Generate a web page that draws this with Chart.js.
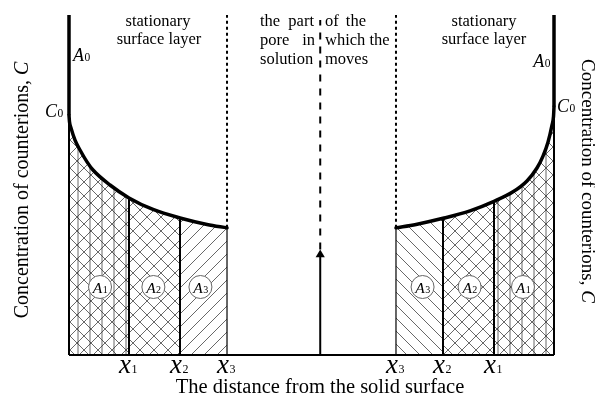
<!DOCTYPE html>
<html><head><meta charset="utf-8">
<script src="https://cdn.jsdelivr.net/npm/chart.js@4.4.1/dist/chart.umd.min.js"></script>
<style>html,body{margin:0;padding:0;background:#fff}canvas{display:block}</style>
</head><body>
<canvas id="c" width="595" height="395"></canvas>
<script>
// ---- data (distance from each solid surface, concentration of counterions) ----
const leftDistance       = [0, 0.1, 0.41, 1.24, 2.27, 3.71, 4.95, 8.45, 12.37, 17.32, 22.89, 28.45, 32.58];
const leftConcentration  = [70.5, 68.6, 66.8, 63.2, 60.3, 56.8, 54.4, 50.0, 46.2, 42.8, 40.3, 38.4, 37.4];
const rightDistance      = [0, 0.1, 0.41, 1.24, 2.27, 3.51, 5.57, 8.45, 12.37, 17.32, 22.89, 28.45, 32.58];
const rightConcentration = [73.0, 70.2, 67.6, 62.6, 58.5, 55.0, 51.2, 48.0, 45.2, 42.4, 40.2, 38.4, 37.4];
const layerBounds   = [12.37, 22.89, 32.58];       // x1, x2, x3
const tickMain      = ['x', 'x', 'x'];
const tickSub       = ['1', '2', '3'];
const areaCenters   = [6.4, 17.4, 27.1];           // A1, A2, A3
const areaLevel     = 20;
const areaSub       = ['1', '2', '3'];
const poreCenter    = 51.8;
const arrowTip      = 31;
const dashTop       = 98.5;
const topLevel      = 100;

const SERIF = '"Liberation Serif", "Times New Roman", serif';
const ctx0 = document.getElementById('c').getContext('2d');

function makePattern(kind, s) {
  const t = document.createElement('canvas'); t.width = s; t.height = s;
  const g = t.getContext('2d');
  g.strokeStyle = 'rgba(30,30,30,0.75)'; g.lineWidth = 0.9;
  g.beginPath();
  if (kind === 'cross' || kind === 'slash') for (let k = -1; k <= 1; k++) { g.moveTo(k*s, s); g.lineTo(k*s + s, 0); }
  if (kind === 'cross' || kind === 'back')  for (let k = -1; k <= 1; k++) { g.moveTo(k*s, 0); g.lineTo(k*s + s, s); }
  if (kind === 'vert') { g.moveTo(s/2, 0); g.lineTo(s/2, s); }
  g.stroke();
  return ctx0.createPattern(t, 'repeat');
}
const pCross = makePattern('cross', 14);
const pSlash = makePattern('slash', 13);
const pBack  = makePattern('back', 13);
const pVert  = makePattern('vert', 12);

function pts(ds, cs, lo, hi) {
  const out = [];
  ds.forEach((d, i) => { if (d >= lo - 1e-9 && d <= hi + 1e-9) out.push({x: d, y: cs[i]}); });
  return out;
}
function valAt(ds, cs, d) { return cs[ds.indexOf(d)]; }

const datasets = [];
function fillSet(side, lo, hi, pattern) {
  const ds = side === 'L' ? leftDistance : rightDistance, cs = side === 'L' ? leftConcentration : rightConcentration;
  datasets.push({data: pts(ds, cs, lo, hi), xAxisID: side === 'L' ? 'x' : 'xr', showLine: true, fill: 'origin',
    backgroundColor: pattern, borderWidth: 0, pointRadius: 0, cubicInterpolationMode: 'monotone', order: 20});
}
function lineSet(data, axis, w, dash, order, extra) {
  datasets.push(Object.assign({data, xAxisID: axis, showLine: true, fill: false, borderColor: '#000',
    borderWidth: w, borderDash: dash || [], pointRadius: 0, tension: 0, order}, extra || {}));
}
['L', 'R'].forEach(side => {
  const ds = side === 'L' ? leftDistance : rightDistance, cs = side === 'L' ? leftConcentration : rightConcentration;
  const ax = side === 'L' ? 'x' : 'xr';
  fillSet(side, 0, layerBounds[0], pCross);
  fillSet(side, 0, layerBounds[0], pVert);
  fillSet(side, layerBounds[0], layerBounds[1], pCross);
  fillSet(side, layerBounds[1], layerBounds[2], side === 'L' ? pSlash : pBack);
  // wall and layer boundaries
  lineSet([{x: 0, y: 0}, {x: 0, y: cs[0]}], ax, 2, null, 6);
  lineSet([{x: 0, y: cs[0]}, {x: 0, y: topLevel}], ax, 3.5, null, 2);
  lineSet([{x: layerBounds[0], y: 0}, {x: layerBounds[0], y: valAt(ds, cs, layerBounds[0])}], ax, 2, null, 6);
  lineSet([{x: layerBounds[1], y: 0}, {x: layerBounds[1], y: valAt(ds, cs, layerBounds[1])}], ax, 2, null, 6);
  lineSet([{x: layerBounds[2], y: 0}, {x: layerBounds[2], y: valAt(ds, cs, layerBounds[2])}], ax, 1.2, null, 6);
  lineSet([{x: layerBounds[2], y: valAt(ds, cs, layerBounds[2])}, {x: layerBounds[2], y: topLevel}], ax, 2, [3, 3], 6);
  // concentration curve
  lineSet(ds.map((d, i) => ({x: d, y: cs[i]})), ax, 3.5, null, 2, {cubicInterpolationMode: 'monotone', borderCapStyle: 'round'});
  // area markers
  datasets.push({data: areaCenters.map(d => ({x: d, y: areaLevel})), xAxisID: ax, showLine: false,
    pointRadius: 11.5, pointHoverRadius: 11.5, pointBackgroundColor: '#fff', pointBorderColor: '#666', pointBorderWidth: 1, order: 1});
});
// baseline
lineSet([{x: 0, y: 0}, {x: 100, y: 0}], 'x', 2, null, 5);
// pore centre: dashed line and arrow
lineSet([{x: poreCenter, y: arrowTip}, {x: poreCenter, y: dashTop}], 'x', 2, [7, 7], 5);
lineSet([{x: poreCenter, y: 0}, {x: poreCenter, y: arrowTip - 2}], 'x', 2, null, 5);
datasets.push({data: [{x: poreCenter, y: arrowTip - 1.5}], xAxisID: 'x', showLine: false, pointStyle: 'triangle',
  pointRadius: 5.3, pointBackgroundColor: '#000', pointBorderColor: '#000', pointBorderWidth: 0, order: 4});

function subText(ctx, x, y, main, sub, mainFont, subFont, align) {
  ctx.font = mainFont; const w1 = ctx.measureText(main).width;
  ctx.font = subFont;  const w2 = ctx.measureText(sub).width;
  let sx = x;
  if (align === 'center') sx = x - (w1 + w2) / 2;
  if (align === 'right') sx = x - (w1 + w2);
  ctx.textAlign = 'left'; ctx.textBaseline = 'alphabetic';
  ctx.font = mainFont; ctx.fillText(main, sx, y);
  ctx.font = subFont;  ctx.fillText(sub, sx + w1 + 0.5, y);
}

const labels = {
  id: 'labels',
  afterDraw(chart) {
    const ctx = chart.ctx, X = chart.scales.x, XR = chart.scales.xr, Y = chart.scales.y;
    ctx.save(); ctx.fillStyle = '#000';
    // tick labels x1 x2 x3
    [X, XR].forEach(S => layerBounds.forEach((b, i) => {
      subText(ctx, S.getPixelForValue(b) - 1, Y.getPixelForValue(0) + 18, tickMain[i], tickSub[i],
        'italic 27px ' + SERIF, '12px ' + SERIF, 'center');
    }));
    // area labels
    [X, XR].forEach(S => areaCenters.forEach((d, i) => {
      subText(ctx, S.getPixelForValue(d), Y.getPixelForValue(areaLevel) + 5.5, 'A', areaSub[i],
        'italic 15.5px ' + SERIF, '10px ' + SERIF, 'center');
    }));
    const xl = X.getPixelForValue(0), xr = XR.getPixelForValue(0);
    subText(ctx, xl + 4, 61, 'A', '0', 'italic 18px ' + SERIF, '11.5px ' + SERIF, 'left');
    subText(ctx, xl - 24, 117, 'C', '0', 'italic 18px ' + SERIF, '11.5px ' + SERIF, 'left');
    subText(ctx, xr - 4, 67, 'A', '0', 'italic 18px ' + SERIF, '11.5px ' + SERIF, 'right');
    subText(ctx, xr + 3, 112, 'C', '0', 'italic 18px ' + SERIF, '11.5px ' + SERIF, 'left');
    // top annotations
    ctx.font = '16.5px ' + SERIF; ctx.textBaseline = 'alphabetic';
    ctx.textAlign = 'center';
    ctx.fillText('stationary', 158, 25.5); ctx.fillText('surface layer', 159, 44);
    ctx.fillText('stationary', 484, 25.5); ctx.fillText('surface layer', 484, 44);
    ctx.textAlign = 'left';
    ctx.fillText('the', 260, 26); ctx.fillText('pore', 260, 45); ctx.fillText('solution', 260, 63.5);
    ctx.fillText('of', 325, 26); ctx.fillText('which the', 325, 45); ctx.fillText('moves', 325, 63.5);
    ctx.textAlign = 'right';
    ctx.fillText('part', 314, 26); ctx.fillText('in', 315, 45); ctx.fillText('the', 366, 26);
    // x axis title
    ctx.textAlign = 'center'; ctx.font = '20.5px ' + SERIF;
    ctx.fillText('The distance from the solid surface', 320, 393);
    // y axis titles
    function vTitle(x, y, rot, size) {
      ctx.save(); ctx.translate(x, y); ctx.rotate(rot);
      const a = 'Concentration of counterions, ', b = 'C';
      ctx.font = size + 'px ' + SERIF; const w1 = ctx.measureText(a).width;
      ctx.font = 'italic ' + size + 'px ' + SERIF; const w2 = ctx.measureText(b).width;
      ctx.textAlign = 'left';
      ctx.font = size + 'px ' + SERIF; ctx.fillText(a, -(w1 + w2) / 2, 0);
      ctx.font = 'italic ' + size + 'px ' + SERIF; ctx.fillText(b, -(w1 + w2) / 2 + w1, 0);
      ctx.restore();
    }
    vTitle(28, 190, -Math.PI / 2, 20);
    vTitle(582, 181, Math.PI / 2, 19);
    ctx.restore();
  }
};

new Chart(ctx0, {
  type: 'scatter',
  data: {datasets},
  options: {
    responsive: false, animation: false, events: [],
    layout: {padding: {left: 69, right: 41, top: 15, bottom: 40}},
    datasets: {scatter: {clip: false}},
    plugins: {legend: {display: false}, tooltip: {enabled: false}},
    scales: {
      x:  {type: 'linear', min: 0, max: 100, display: false},
      xr: {type: 'linear', min: 0, max: 100, reverse: true, display: false},
      y:  {type: 'linear', min: 0, max: 100, display: false}
    }
  },
  plugins: [labels]
});
</script>
</body></html>
